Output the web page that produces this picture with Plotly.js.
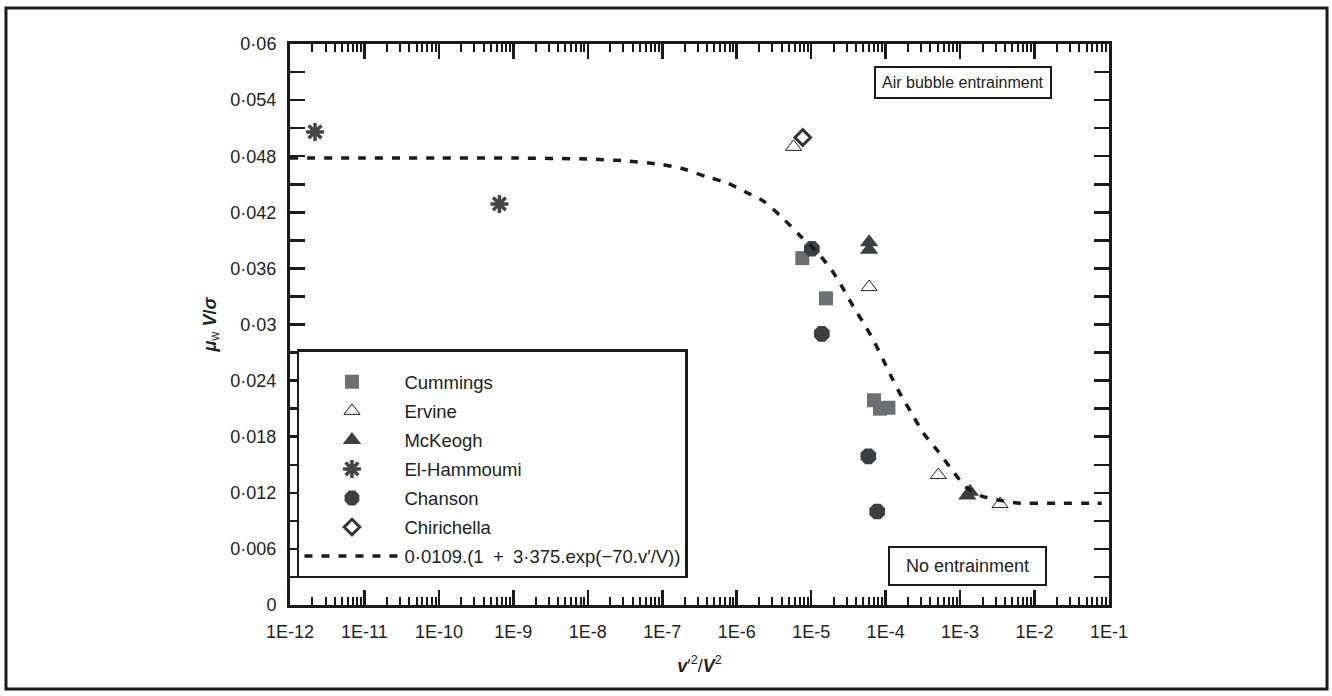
<!DOCTYPE html>
<html>
<head>
<meta charset="utf-8">
<script src="https://cdn.plot.ly/plotly-3.0.1.min.js"></script>
<style>
  html, body { margin: 0; padding: 0; background: #ffffff; }
  #chart { width: 1332px; height: 696px; }
</style>
</head>
<body>
<div id="chart"></div>
<script>
// ---- data ----
const cummingsX = [7.6e-6, 1.58e-5, 6.98e-5, 8.4e-5, 1.09e-4];
const cummingsY = [0.0371, 0.0328, 0.0219, 0.0210, 0.0211];

const ervineX = [5.8e-6, 6.0e-5, 5.1e-4, 3.44e-3];
const ervineY = [0.0490, 0.0340, 0.0139, 0.0108];

const mckeoghX = [6.0e-5, 6.0e-5, 1.36e-3, 1.25e-3];
const mckeoghY = [0.0388, 0.0380, 0.0121, 0.0117];

const hammoumiX = [2.17e-12, 6.5e-10];
const hammoumiY = [0.0506, 0.0429];

const chansonX = [1.02e-5, 1.39e-5, 5.86e-5, 7.7e-5];
const chansonY = [0.0381, 0.0290, 0.0159, 0.0100];

const chirichellaX = [7.7e-6];
const chirichellaY = [0.0500];

// fitted curve, points
const fitX = [1e-12, 1e-11, 1e-10, 1e-9, 1e-8, 3.2e-8, 1e-7, 2.0e-7, 3.95e-7, 7.7e-7,
              1.29e-6, 2.28e-6, 4.0e-6, 7.1e-6, 1.25e-5, 1.89e-5, 2.70e-5, 3.68e-5,
              5.3e-5, 7.2e-5, 9.3e-5, 1.23e-4, 1.64e-4, 2.24e-4, 3.2e-4, 5.1e-4,
              7.7e-4, 1.20e-3, 1.95e-3, 3.4e-3, 5.8e-3, 2.0e-2, 5.6e-2, 8.0e-2];
const fitY = [0.0478, 0.0478, 0.0478, 0.0478, 0.0477, 0.0475, 0.0471, 0.0466, 0.0458, 0.0451,
              0.0442, 0.0432, 0.0415, 0.0395, 0.0376, 0.0358, 0.0338, 0.0319,
              0.0299, 0.0280, 0.0262, 0.0242, 0.0223, 0.0205, 0.0184, 0.0164,
              0.0145, 0.0126, 0.01165, 0.0112, 0.0109, 0.01088, 0.01087, 0.01087];

const seriesNames = ['Cummings', 'Ervine', 'McKeogh', 'El-Hammoumi', 'Chanson', 'Chirichella',
                     '0·0109.(1\u2002+\u20023·375.exp(\u221270.v\u2032/V))'];

const xTickVals = [1e-12, 1e-11, 1e-10, 1e-9, 1e-8, 1e-7, 1e-6, 1e-5, 1e-4, 1e-3, 1e-2, 1e-1];
const xTickText = ['1E-12', '1E-11', '1E-10', '1E-9', '1E-8', '1E-7', '1E-6', '1E-5', '1E-4', '1E-3', '1E-2', '1E-1'];
const yTickVals = [0, 0.006, 0.012, 0.018, 0.024, 0.03, 0.036, 0.042, 0.048, 0.054, 0.06];
const yTickText = ['0', '0·006', '0·012', '0·018', '0·024', '0·03', '0·036', '0·042', '0·048', '0·054', '0·06'];

// ---- minor tick positions (axis decoration) ----
const xMinor = [];
for (let d = -12; d < -1; d++) {
  for (let k = 2; k <= 9; k++) xMinor.push(k * Math.pow(10, d));
}
const yMinor = [];
for (let i = 0; i < yTickVals.length - 1; i++) yMinor.push((yTickVals[i] + yTickVals[i + 1]) / 2);

const FONT = 'Liberation Sans, Arial, Helvetica, sans-serif';
const INK = '#1a1a1a';

const traces = [
  { x: cummingsX, y: cummingsY, name: seriesNames[0], legendgroup: 'g1', mode: 'markers', type: 'scatter',
    marker: { symbol: 'square', size: 14, color: '#6e6f72', line: { width: 0 } } },
  { x: ervineX, y: ervineY, name: seriesNames[1], legendgroup: 'g2', mode: 'markers', type: 'scatter',
    marker: { symbol: 'triangle-up-open', size: 14, color: '#222222', line: { width: 1, color: '#222222' } } },
  { x: mckeoghX, y: mckeoghY, name: seriesNames[2], legendgroup: 'g3', mode: 'markers', type: 'scatter',
    marker: { symbol: 'triangle-up', size: 16, color: '#3d3e40', line: { width: 0 } } },
  { x: hammoumiX, y: hammoumiY, name: seriesNames[3], legendgroup: 'g4', mode: 'markers', type: 'scatter',
    marker: { symbol: 'asterisk-open', size: 15, color: '#444446', line: { width: 3.5, color: '#444446' } } },
  { x: chansonX, y: chansonY, name: seriesNames[4], legendgroup: 'g5', mode: 'markers', type: 'scatter',
    marker: { symbol: 'octagon', size: 17, color: '#3d3e40', line: { width: 0 } } },
  { x: chirichellaX, y: chirichellaY, name: seriesNames[5], legendgroup: 'g6', mode: 'markers', type: 'scatter',
    marker: { symbol: 'diamond-open', size: 12, color: '#333333', line: { width: 3, color: '#333333' } } },
  { x: fitX, y: fitY, name: seriesNames[6], legendgroup: 'g7', mode: 'lines', type: 'scatter',
    line: { color: INK, width: 3.5, dash: '8px,9px', shape: 'spline', smoothing: 0.6 } }
];

const layout = {
  width: 1332, height: 696,
  margin: { l: 290, r: 223, t: 44, b: 91, pad: 0 },
  paper_bgcolor: '#ffffff', plot_bgcolor: '#ffffff',
  font: { family: FONT, size: 18, color: '#222222' },
  showlegend: true,
  legend: {
    x: 0.0085, y: 0.048, xanchor: 'left', yanchor: 'bottom',
    bgcolor: '#ffffff', bordercolor: INK, borderwidth: 2.5,
    font: { family: FONT, size: 18.5, color: '#222222' },
    itemwidth: 95, tracegroupgap: 2, traceorder: 'grouped',
    title: { text: ' ', font: { family: FONT, size: 9 } }
  },
  xaxis: {
    type: 'log', range: [-12, -1], autorange: false,
    tickmode: 'array', tickvals: xTickVals, ticktext: xTickText,
    ticks: 'inside', ticklen: 15, tickwidth: 2.5, tickcolor: INK,
    showline: true, linewidth: 3, linecolor: INK, mirror: 'ticks',
    showgrid: false, zeroline: false,
    ticklabelstandoff: 8,
    tickfont: { family: FONT, size: 18, color: '#222222' },
    minor: { tickmode: 'array', tickvals: xMinor, ticks: 'inside', ticklen: 8, tickwidth: 2, tickcolor: INK, showgrid: false },
    title: { text: '<b><i>v</i></b>\u2032<sup>2</sup>/<b><i>V</i></b><sup>2</sup>', standoff: 19,
             font: { family: FONT, size: 18, color: '#222222' } }
  },
  yaxis: {
    range: [0, 0.06], autorange: false,
    tickmode: 'array', tickvals: yTickVals, ticktext: yTickText,
    ticks: 'inside', ticklen: 15, tickwidth: 2.5, tickcolor: INK,
    showline: true, linewidth: 3, linecolor: INK, mirror: 'ticks',
    showgrid: false, zeroline: false,
    ticklabelstandoff: 7,
    tickfont: { family: FONT, size: 18, color: '#222222' },
    minor: { tickmode: 'array', tickvals: yMinor, ticks: 'inside', ticklen: 15, tickwidth: 2.5, tickcolor: INK, showgrid: false },
    title: { text: '<b><i>\u03bc</i></b><sub>w</sub> <b><i>V</i>/<i>\u03c3</i></b>', standoff: 10,
             font: { family: FONT, size: 18, color: '#222222' } }
  },
  annotations: [
    { xref: 'paper', yref: 'paper', x: 0.9304, y: 0.9305, xanchor: 'right', yanchor: 'middle',
      text: 'Air bubble entrainment', showarrow: false,
      font: { family: FONT, size: 16, color: '#222222' },
      bgcolor: '#ffffff', bordercolor: INK, borderwidth: 2, borderpad: 6 },
    { xref: 'paper', yref: 'paper', x: 0.9243, y: 0.0704, xanchor: 'right', yanchor: 'middle',
      text: 'No entrainment', showarrow: false, width: 143, height: 24,
      font: { family: FONT, size: 18, color: '#222222' },
      bgcolor: '#ffffff', bordercolor: INK, borderwidth: 2, borderpad: 6 }
  ],
  shapes: [
    { type: 'rect', xref: 'paper', yref: 'paper', x0: -0.3468, x1: 1.2662, y0: -0.1496, y1: 1.0641,
      line: { color: INK, width: 3 }, fillcolor: 'rgba(0,0,0,0)', layer: 'above' }
  ]
};

Plotly.newPlot('chart', traces, layout, { displayModeBar: false, staticPlot: true });
</script>
</body>
</html>
